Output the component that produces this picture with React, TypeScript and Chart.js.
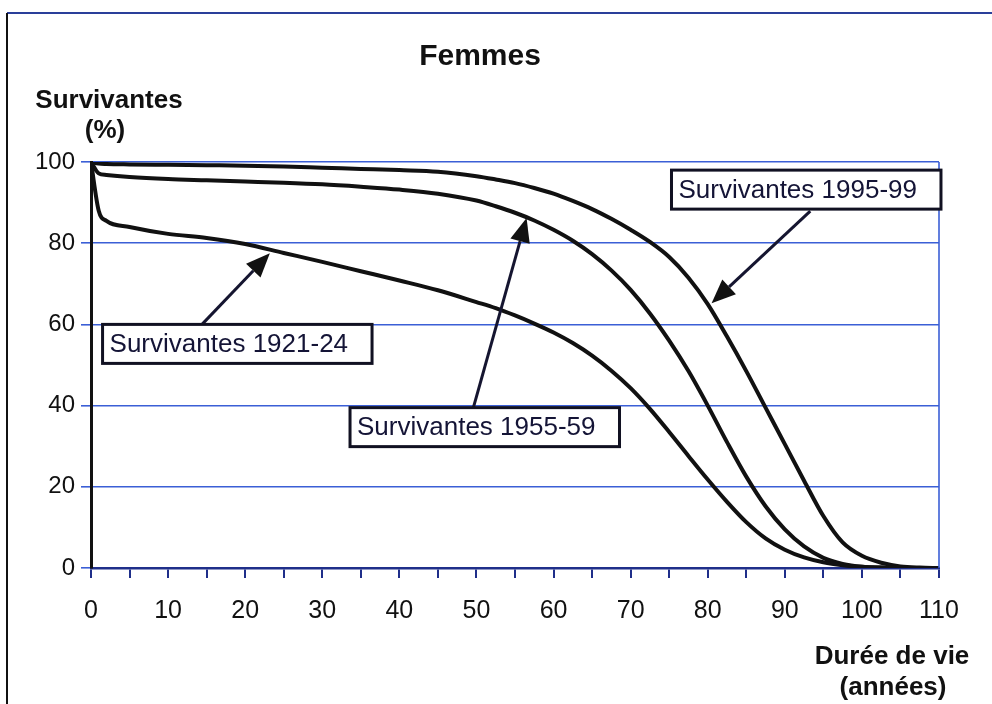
import React, { useEffect, useRef } from "react";
import { Chart, registerables } from "chart.js";

Chart.register(...registerables);

// ---- Data ----
const ages = [0, 1, 2, 5, 10, 15, 20, 25, 30, 35, 40, 45, 50, 52.5, 55, 57.5, 60, 62.5, 65, 67.5, 70, 72.5, 75, 77.5, 80, 82.5, 85, 87.5, 90, 92.5, 95, 97.5, 100, 102.5, 105, 107.5, 110];
const surv1921 = [100, 88, 85.5, 84, 82.3, 81.3, 79.8, 77.6, 75.4, 73.1, 70.8, 68.4, 65.5, 64, 62.2, 60.2, 58, 55.4, 52.3, 48.6, 44.3, 39.2, 33.5, 27.6, 21.8, 16.3, 11.3, 7.3, 4.5, 2.6, 1.4, 0.7, 0.3, 0.1, 0, 0, 0];
const surv1955 = [100, 97.2, 96.8, 96.3, 95.8, 95.5, 95.2, 94.9, 94.5, 93.9, 93.2, 92.2, 90.5, 89.1, 87.5, 85.6, 83.3, 80.6, 77.3, 73.3, 68.5, 62.7, 56, 48.5, 40, 31, 22.5, 15.2, 9.5, 5.3, 2.5, 1, 0.3, 0.1, 0, 0, 0];
const surv1995 = [100, 99.6, 99.5, 99.4, 99.3, 99.2, 99.1, 98.9, 98.6, 98.3, 98, 97.6, 96.5, 95.7, 94.8, 93.6, 92.2, 90.4, 88.4, 86, 83.3, 80.3, 76.6, 71.5, 65, 57, 48.5, 39.5, 30.5, 21.5, 12.8, 6.3, 3, 1.3, 0.4, 0.1, 0];

const xTickValues = [0, 10, 20, 30, 40, 50, 60, 70, 80, 90, 100, 110];
const yTickValues = [0, 20, 40, 60, 80, 100];

const chartTitle = "Femmes";
const yTitleLines = ["Survivantes", "(%)"];
const xTitleLines = ["Durée de vie", "(années)"];

const labelTexts = ["Survivantes 1921-24", "Survivantes 1955-59", "Survivantes 1995-99"];
const labelLeftAge = [1.5, 33.6, 75.3];
const labelTopPct = [60.0, 39.5, 98.0];
const arrowFromAge = [14.4, 49.6, 93.3];
const arrowFromPct = [60.0, 39.5, 87.9];
const arrowToAge = [23.2, 56.5, 80.5];
const arrowToPct = [77.5, 86.2, 65.2];

const FONT = "'Liberation Sans', Arial, Helvetica, sans-serif";
const W = 992;
const H = 704;

const toPoints = (vals: number[]) => vals.map((v, i) => ({ x: ages[i], y: v }));

const overlay = {
  id: "overlay",
  beforeDraw(chart: any) {
    const { ctx } = chart;
    ctx.save();
    ctx.fillStyle = "#ffffff";
    ctx.fillRect(0, 0, chart.width, chart.height);
    ctx.restore();
  },
  afterDraw(chart: any) {
    const { ctx, chartArea: area } = chart;
    const xs = chart.scales.x;
    const ys = chart.scales.y;
    ctx.save();

    // plot area right border
    ctx.strokeStyle = "#3b5fd6";
    ctx.lineWidth = 1.6;
    ctx.beginPath();
    ctx.moveTo(area.right, area.top);
    ctx.lineTo(area.right, area.bottom);
    ctx.stroke();

    // outer frame (top & left)
    ctx.strokeStyle = "#2a3f9a";
    ctx.lineWidth = 2;
    ctx.beginPath();
    ctx.moveTo(7, 13);
    ctx.lineTo(W, 13);
    ctx.stroke();
    ctx.strokeStyle = "#111111";
    ctx.beginPath();
    ctx.moveTo(7, 13);
    ctx.lineTo(7, H);
    ctx.stroke();

    // texts
    ctx.fillStyle = "#111111";
    ctx.textAlign = "center";
    ctx.textBaseline = "alphabetic";
    ctx.font = `bold 30px ${FONT}`;
    ctx.fillText(chartTitle, 480, 65);
    ctx.font = `bold 26px ${FONT}`;
    ctx.fillText(yTitleLines[0], 109, 108);
    ctx.fillText(yTitleLines[1], 105, 138);
    ctx.fillText(xTitleLines[0], 892, 664);
    ctx.fillText(xTitleLines[1], 893, 695);

    // arrows
    for (let i = 0; i < labelTexts.length; i++) {
      const x0 = xs.getPixelForValue(arrowFromAge[i]);
      const y0 = ys.getPixelForValue(arrowFromPct[i]);
      const x1 = xs.getPixelForValue(arrowToAge[i]);
      const y1 = ys.getPixelForValue(arrowToPct[i]);
      const ang = Math.atan2(y1 - y0, x1 - x0);
      const headLen = 24;
      const headHalf = 10;
      const bx = x1 - headLen * Math.cos(ang);
      const by = y1 - headLen * Math.sin(ang);
      ctx.strokeStyle = "#151530";
      ctx.lineWidth = 3;
      ctx.beginPath();
      ctx.moveTo(x0, y0);
      ctx.lineTo(bx, by);
      ctx.stroke();
      ctx.fillStyle = "#111111";
      ctx.beginPath();
      ctx.moveTo(x1, y1);
      ctx.lineTo(bx + headHalf * Math.sin(ang), by - headHalf * Math.cos(ang));
      ctx.lineTo(bx - headHalf * Math.sin(ang), by + headHalf * Math.cos(ang));
      ctx.closePath();
      ctx.fill();
    }

    // label boxes
    ctx.font = `26px ${FONT}`;
    ctx.textAlign = "left";
    ctx.textBaseline = "middle";
    for (let i = 0; i < labelTexts.length; i++) {
      const left = xs.getPixelForValue(labelLeftAge[i]);
      const top = ys.getPixelForValue(labelTopPct[i]);
      const tw = ctx.measureText(labelTexts[i]).width;
      const bw = tw + 7 + 24;
      const bh = 39;
      ctx.fillStyle = "#ffffff";
      ctx.fillRect(left, top, bw, bh);
      ctx.strokeStyle = "#111122";
      ctx.lineWidth = 3;
      ctx.strokeRect(left, top, bw, bh);
      ctx.fillStyle = "#141436";
      ctx.fillText(labelTexts[i], left + 7, top + bh / 2 + 1);
    }

    ctx.restore();
  },
};

export default function App() {
  const canvasRef = useRef<HTMLCanvasElement | null>(null);

  useEffect(() => {
    if (!canvasRef.current) return;
    const lineStyle = {
      borderColor: "#111111",
      borderWidth: 4,
      pointRadius: 0,
      fill: false,
      tension: 0.4,
      cubicInterpolationMode: "monotone" as const,
    };
    const chart = new Chart(canvasRef.current, {
      type: "line",
      data: {
        datasets: [
          { label: labelTexts[0], data: toPoints(surv1921), ...lineStyle },
          { label: labelTexts[1], data: toPoints(surv1955), ...lineStyle },
          { label: labelTexts[2], data: toPoints(surv1995), ...lineStyle },
        ],
      },
      options: {
        responsive: false,
        animation: false,
        layout: { padding: { left: 0, top: 162, right: 53, bottom: 0 } },
        plugins: {
          legend: { display: false },
          title: { display: false },
          tooltip: { enabled: false },
        },
        scales: {
          x: {
            type: "linear",
            min: 0,
            max: 110,
            afterFit: (s: any) => {
              s.height = H - 568;
            },
            afterBuildTicks: (s: any) => {
              const t: any[] = [];
              for (let v = 0; v <= 110; v += 5) t.push({ value: v });
              s.ticks = t;
            },
            ticks: {
              autoSkip: false,
              maxRotation: 0,
              padding: 18,
              color: "#111111",
              font: { family: FONT, size: 25 },
              callback: (v: any) => (xTickValues.includes(Number(v)) ? String(v) : ""),
            },
            grid: {
              drawOnChartArea: false,
              drawTicks: true,
              tickLength: 10,
              color: "#1f2f8a",
              lineWidth: 2,
            },
            border: { display: true, color: "#1f2f8a", width: 2.5 },
          },
          y: {
            type: "linear",
            min: 0,
            max: 100,
            afterFit: (s: any) => {
              s.width = 91;
            },
            afterBuildTicks: (s: any) => {
              s.ticks = yTickValues.map((v) => ({ value: v }));
            },
            ticks: {
              padding: 6,
              color: "#111111",
              font: { family: FONT, size: 24 },
            },
            grid: {
              drawOnChartArea: true,
              drawTicks: true,
              tickLength: 10,
              color: "#3b5fd6",
              lineWidth: 1.6,
            },
            border: { display: true, color: "#111111", width: 3 },
          },
        },
      },
      plugins: [overlay],
    });
    return () => chart.destroy();
  }, []);

  return (
    <div style={{ position: "fixed", left: 0, top: 0, width: W, height: H, background: "#fff" }}>
      <canvas ref={canvasRef} width={W} height={H} style={{ width: W, height: H, display: "block" }} />
    </div>
  );
}
